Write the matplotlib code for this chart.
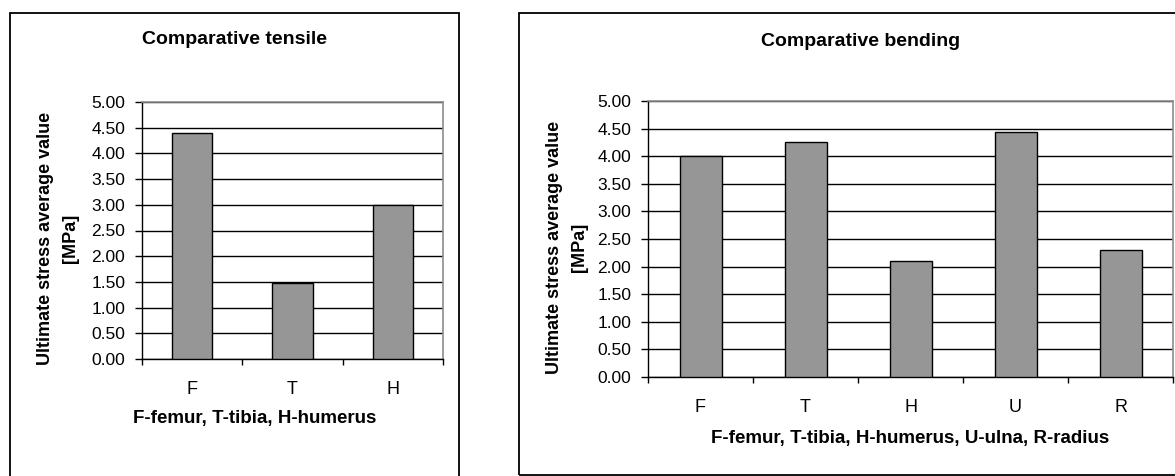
"""Comparative ultimate stress of bone samples: tensile and bending tests."""

import matplotlib
matplotlib.use('Agg')
import matplotlib.pyplot as plt
from matplotlib.patches import Rectangle
from matplotlib.ticker import FixedLocator, FormatStrFormatter, NullFormatter
import numpy as np

plt.rcParams['font.family'] = ['Liberation Sans', 'DejaVu Sans']

# Tensile test, average ultimate stress [MPa]
tensile_bones = ['F', 'T', 'H']
tensile_stress = [4.40, 1.48, 3.00]

# Bending test, average ultimate stress [MPa]
bending_bones = ['F', 'T', 'H', 'U', 'R']
bending_stress = [4.00, 4.25, 2.10, 4.43, 2.30]

y_ticks = [0.0, 0.5, 1.0, 1.5, 2.0, 2.5, 3.0, 3.5, 4.0, 4.5, 5.0]
y_label = 'Ultimate stress average value\n[MPa]'

W, H = 1175, 476


def fx(px):
    return px / W


def fy(py):
    return 1 - py / H


def bar_panel(fig, rect, bones, values, title, xlabel, title_xy, xlabel_xy, ylabel_x):
    """Draws one Excel-like bar chart at the given pixel rectangle."""
    x0, y0, x1, y1 = rect
    ax = fig.add_axes([fx(x0), fy(y1), fx(x1 - x0), (y1 - y0) / H])

    pos = np.arange(len(bones))
    ax.bar(pos, values, width=0.4, color='#969696', edgecolor='black',
           linewidth=1.0, zorder=3)

    ax.set_xlim(-0.5, len(bones) - 0.5)
    ax.set_ylim(0, 5)
    ax.set_yticks(y_ticks)
    ax.yaxis.set_major_formatter(FormatStrFormatter('%.2f'))
    ax.tick_params(axis='y', direction='out', length=5, width=1,
                   labelsize=12.5, pad=7)

    # category boundaries carry the tick marks, centres carry the labels
    ax.xaxis.set_major_locator(FixedLocator(np.arange(len(bones) + 1) - 0.5))
    ax.xaxis.set_major_formatter(NullFormatter())
    ax.xaxis.set_minor_locator(FixedLocator(pos))
    ax.set_xticklabels(bones, minor=True)
    ax.tick_params(axis='x', which='major', direction='out', length=4, width=1)
    ax.tick_params(axis='x', which='minor', length=0, labelsize=13, pad=16)

    ax.yaxis.grid(True, color='black', linewidth=1.0, zorder=0)
    ax.set_axisbelow(True)
    for side in ['top', 'right']:
        ax.spines[side].set_color('#8c8c8c')
        ax.spines[side].set_linewidth(1.2)
    for side in ['left', 'bottom']:
        ax.spines[side].set_color('black')
        ax.spines[side].set_linewidth(1.0)

    fig.text(fx(title_xy[0]), fy(title_xy[1]), title, ha='center', va='center',
             fontsize=14, fontweight='bold')
    fig.text(fx(xlabel_xy[0]), fy(xlabel_xy[1]), xlabel, ha='center', va='center',
             fontsize=13.5, fontweight='bold')
    fig.text(fx(ylabel_x), fy((y0 + y1) / 2 + 8), y_label, ha='center', va='center',
             rotation=90, fontsize=13, fontweight='bold', linespacing=1.55)
    return ax


def main():
    fig = plt.figure(figsize=(W / 100, H / 100), dpi=100)

    # chart area frames
    fig.patches.append(Rectangle((fx(9.5), fy(490)), fx(459 - 9.5), (490 - 13) / H,
                                 transform=fig.transFigure, fill=False,
                                 edgecolor='black', linewidth=1.3))
    fig.patches.append(Rectangle((fx(519), fy(475)), fx(1200 - 519), (475 - 13) / H,
                                 transform=fig.transFigure, fill=False,
                                 edgecolor='black', linewidth=1.3))

    bar_panel(fig, (142, 102, 443, 359), tensile_bones, tensile_stress,
              'Comparative tensile', 'F-femur, T-tibia, H-humerus',
              (235, 40), (255, 418), 58)
    bar_panel(fig, (648, 101, 1173, 377), bending_bones, bending_stress,
              'Comparative bending',
              'F-femur, T-tibia, H-humerus, U-ulna, R-radius',
              (861, 42), (910, 439), 567)

    fig.savefig('out.png', dpi=100)
    plt.close(fig)


if __name__ == '__main__':
    main()
